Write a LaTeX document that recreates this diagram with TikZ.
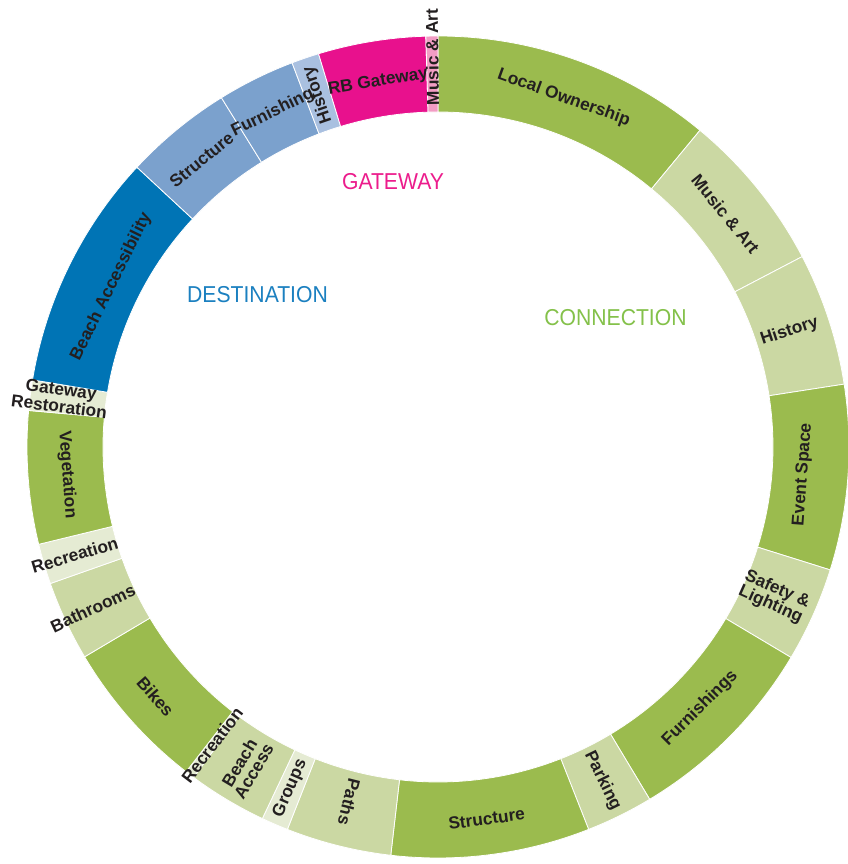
\documentclass[tikz,border=0pt]{standalone}
\usepackage{fontspec}
\setmainfont{Liberation Sans}
\definecolor{dkgreen}{HTML}{9BBB4E}
\definecolor{ltgreen}{HTML}{CBD8A3}
\definecolor{xlgreen}{HTML}{E5EBD3}
\definecolor{dblue}{HTML}{0074B5}
\definecolor{mblue}{HTML}{7BA1CD}
\definecolor{lblue}{HTML}{A9C0E0}
\definecolor{magen}{HTML}{E8118D}
\definecolor{pinkseg}{HTML}{F29CC4}
\definecolor{labgray}{HTML}{231F20}
\definecolor{catgreen}{HTML}{84C14A}
\definecolor{catblue}{HTML}{1B80C0}
\definecolor{catmag}{HTML}{EC1C8C}
\newcommand\ringseg[3]{\filldraw[fill=#3, draw=white, line width=0.8pt] ({90-#1}:411) arc[start angle={90-#1}, end angle={90-#2}, radius=411] -- ({90-#2}:335) arc[start angle={90-#2}, end angle={90-#1}, radius=335] -- cycle;}
\begin{document}
\begin{tikzpicture}[x=1pt,y=1pt]
\tikzset{
  seglab/.style={text=labgray, font=\fontsize{17.3}{16.5}\selectfont\bfseries, inner sep=0pt, align=center},
  catlab/.style={font=\fontsize{23}{23}\selectfont, inner sep=0pt, xscale=0.92}
}
\useasboundingbox (-438,-417) rectangle (409,447);
\fill[white] (-438,-417) rectangle (409,447);
% segments
\ringseg{0}{39.6}{dkgreen}
\ringseg{39.6}{62.4}{ltgreen}
\ringseg{62.4}{81.2}{ltgreen}
\ringseg{81.2}{107.4}{dkgreen}
\ringseg{107.4}{120.8}{ltgreen}
\ringseg{120.8}{149.0}{dkgreen}
\ringseg{149.0}{158.5}{ltgreen}
\ringseg{158.5}{186.6}{dkgreen}
\ringseg{186.6}{201.5}{ltgreen}
\ringseg{201.5}{205.3}{xlgreen}
\ringseg{205.3}{216.5}{ltgreen}
\ringseg{216.5}{217.8}{xlgreen}
\ringseg{217.8}{239.3}{dkgreen}
\ringseg{239.3}{250.6}{ltgreen}
\ringseg{250.6}{256.3}{xlgreen}
\ringseg{256.3}{275.1}{dkgreen}
\ringseg{275.1}{279.4}{xlgreen}
\ringseg{279.4}{312.9}{dblue}
\ringseg{312.9}{328.2}{mblue}
\ringseg{328.2}{339.2}{mblue}
\ringseg{339.2}{343.1}{lblue}
\ringseg{343.1}{358.3}{magen}
\ringseg{358.3}{360}{pinkseg}
% segment labels
\node[seglab, rotate=-19.8] (lo) at (70.2:371) {Local Ownership};
\node[seglab, rotate=-51] (ma1) at (39:370) {Music \& Art};
\node[seglab, rotate=18.2] (hi1) at (18.2:370) {History};
\node[seglab, rotate=85.7] (es) at (-4.3:366) {Event Space};
\node[seglab, rotate=-24.1] (sl) at (-24.1:368) {Safety \&\\Lighting};
\node[seglab, rotate=45.1] (fu1) at (-44.9:370) {Furnishings};
\node[seglab, rotate=-63.75] (pa) at (-63.75:372) {Parking};
\node[seglab, rotate=7.45] (st1) at (-82.55:375) {Structure};
\node[seglab, rotate=-104.05] (pt) at (-104.05:366) {Paths};
\node[seglab, rotate=66.6] (gr) at (-113.4:372) {Groups};
\node[seglab, rotate=59.1] (ba) at (-120.9:373) {Beach\\Access};
\node[seglab, rotate=52.85] (re1) at (-127.15:374) {Recreation};
\node[seglab, rotate=-48.55] (bk) at (-138.55:377) {Bikes};
\node[seglab, rotate=25.05] (bt) at (-154.95:381) {Bathrooms};
\node[seglab, rotate=16.55] (re2) at (-163.45:379) {Recreation};
\node[seglab, rotate=-85.7] (ve) at (-175.7:372) {Vegetation};
\node[seglab, rotate=-7.25, font=\fontsize{17.3}{14.5}\selectfont\bfseries] (gw) at (172.6:381) {Gateway\\Restoration};
\node[seglab, rotate=63.85] (bac) at (153.85:364) {Beach Accessibility};
\node[seglab, rotate=39.45] (st2) at (129.45:372) {Structure};
\node[seglab, rotate=26.3] (fu2) at (116.3:373) {Furnishing};
\node[seglab, rotate=108.85] (hi2) at (108.85:372) {History};
\node[seglab, rotate=9.3] (rb) at (99.3:370) {RB Gateway};
\node[seglab, rotate=90.85] (ma2) at (90.85:390) {Music \& Art};
% category labels
\node[catlab, text=catmag] (gate) at (-45,265.5) {GATEWAY};
\node[catlab, text=catblue] (dest) at (-180.5,152.5) {DESTINATION};
\node[catlab, text=catgreen] (conn) at (177.5,129) {CONNECTION};
\end{tikzpicture}
\end{document}
